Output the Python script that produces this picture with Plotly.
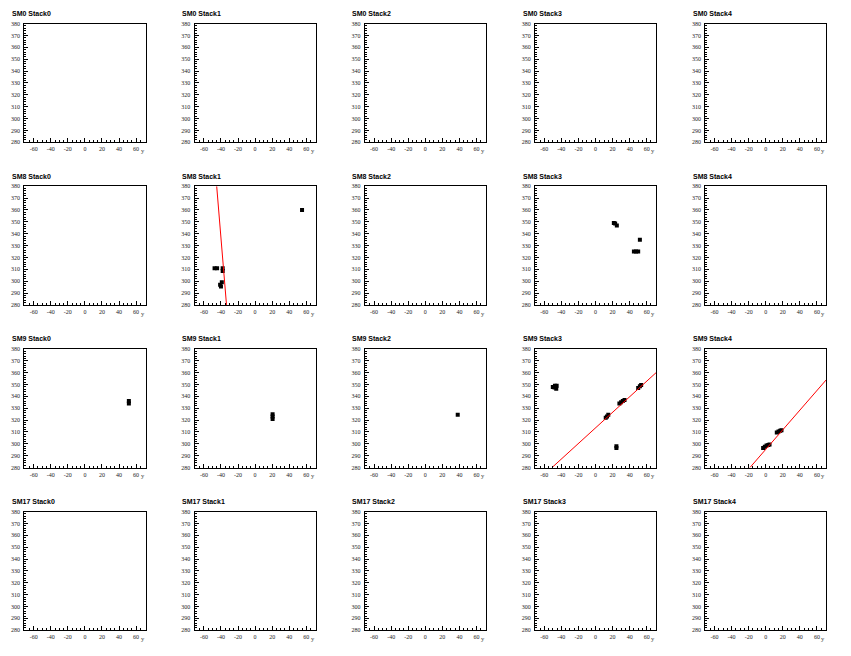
import plotly.graph_objects as go

# ---------------- data ----------------
supermodules = ["SM0", "SM8", "SM9", "SM17"]
stacks = ["Stack0", "Stack1", "Stack2", "Stack3", "Stack4"]

x_range = [-71, 71]
y_range = [280, 380]
x_tickvals = [-60, -40, -20, 0, 20, 40, 60]
x_ticktext = ["-60", "-40", "-20", "0", "20", "40", "60"]
y_tickvals = [280, 290, 300, 310, 320, 330, 340, 350, 360, 370, 380]
axis_title = "y"

# hits per (row, column): x values and y values
hits_x = {
    (1, 1): [55, -47.5, -44.5, -38, -38, -41, -39, -40],
    (1, 3): [21.5, 23, 25, 52, 45, 47.5, 50],
    (2, 0): [51.5, 51.5],
    (2, 1): [20.5, 20.5, 20.5],
    (2, 2): [38],
    (2, 3): [-50, -47.5, -45.5, -46, -48, 24.5, 24.5, 12, 13.5, 15,
             28, 30, 32, 34, 50, 52, 53.5],
    (2, 4): [-3, -1, 1, 3, 4.5, 13, 15, 17, 18.5],
}
hits_y = {
    (1, 1): [360, 311, 311, 311, 308.5, 297, 299, 295.5],
    (1, 3): [349, 348.5, 347, 335, 325, 325, 325],
    (2, 0): [336, 334],
    (2, 1): [325, 323, 321],
    (2, 2): [324.5],
    (2, 3): [348, 349, 349, 346.5, 347.5, 298, 296.5, 322, 323, 324.5,
             334, 335, 336, 337, 347, 348.5, 349.5],
    (2, 4): [296.5, 297.5, 298.5, 299, 299.5, 309.5, 310.5, 311, 311.5],
}

# fitted tracks (end points)
fit_x = {
    (1, 1): [-45, -33.5],
    (2, 3): [-51, 71],
    (2, 4): [-18.5, 71],
}
fit_y = {
    (1, 1): [380, 280],
    (2, 3): [280, 360],
    (2, 4): [280, 354],
}

# ---------------- layout ----------------
OFF = 8                      # default page body margin
W, H = 851 - 2 * OFF, 656 - 2 * OFF
col_w = 851 / 5
row_h = 164.2
pl, pr = 24.3, 145.5
pt, pb = 20.7, 140.5


def px_x(p):
    return (p - OFF) / W


def px_y(p):
    return 1 - (p - OFF) / H


fig = go.Figure()
layout = dict(
    width=W, height=H, margin=dict(l=0, r=0, t=0, b=0),
    paper_bgcolor="white", plot_bgcolor="white", showlegend=False,
)
annotations = []
tick_font = dict(family="Liberation Serif", size=6, color="#222")

for r, sm in enumerate(supermodules):
    for c, st in enumerate(stacks):
        idx = r * 5 + c + 1
        xa = "xaxis" if idx == 1 else f"xaxis{idx}"
        ya = "yaxis" if idx == 1 else f"yaxis{idx}"
        xr = "x" if idx == 1 else f"x{idx}"
        yr = "y" if idx == 1 else f"y{idx}"
        x0 = px_x(c * col_w + pl)
        x1 = px_x(c * col_w + pr)
        ytop = px_y(r * row_h + pt)
        ybot = px_y(r * row_h + pb)
        layout[xa] = dict(
            domain=[x0, x1], range=x_range, anchor=yr,
            tickvals=x_tickvals, ticktext=x_ticktext,
            ticks="inside", ticklen=4, tickwidth=0.8, tickcolor="black",
            minor=dict(dtick=5, tick0=0, ticks="inside", ticklen=2,
                       tickwidth=0.8, tickcolor="black"),
            showline=True, linecolor="black", linewidth=1, mirror=True,
            showgrid=False, zeroline=False, tickfont=tick_font,
            ticklabelstandoff=1,
        )
        layout[ya] = dict(
            domain=[ybot, ytop], range=y_range, anchor=xr,
            tickvals=y_tickvals, ticks="inside", ticklen=4, tickwidth=0.8,
            tickcolor="black",
            minor=dict(dtick=2, tick0=0, ticks="inside", ticklen=2,
                       tickwidth=0.8, tickcolor="black"),
            showline=True, linecolor="black", linewidth=1, mirror=True,
            showgrid=False, zeroline=False, tickfont=tick_font,
            ticklabelstandoff=2,
        )
        key = (r, c)
        # empty trace so that every frame is drawn
        fig.add_trace(go.Scatter(x=[None], y=[None], mode="markers",
                                 xaxis=xr, yaxis=yr, hoverinfo="skip"))
        if key in hits_x:
            fig.add_trace(go.Scatter(
                x=hits_x[key], y=hits_y[key], mode="markers",
                marker=dict(symbol="square", size=4, color="black",
                            line=dict(width=0)),
                xaxis=xr, yaxis=yr, cliponaxis=True))
        if key in fit_x:
            fig.add_trace(go.Scatter(
                x=fit_x[key], y=fit_y[key], mode="lines",
                line=dict(color="red", width=1),
                xaxis=xr, yaxis=yr))
        annotations.append(dict(
            text=f"<b>{sm} {st}</b>", xref="paper", yref="paper",
            x=px_x(c * col_w + 10), y=px_y(r * row_h + 10.5),
            xanchor="left", yanchor="middle", showarrow=False,
            font=dict(family="Liberation Sans", size=7, color="black")))
        annotations.append(dict(
            text=axis_title, xref="paper", yref="paper",
            x=px_x(c * col_w + 142.5), y=px_y(r * row_h + 149),
            xanchor="center", yanchor="middle", showarrow=False,
            font=dict(family="Liberation Serif", size=6.5, color="#444")))

layout["annotations"] = annotations
fig.update_layout(**layout)
fig.write_html("out.html")
